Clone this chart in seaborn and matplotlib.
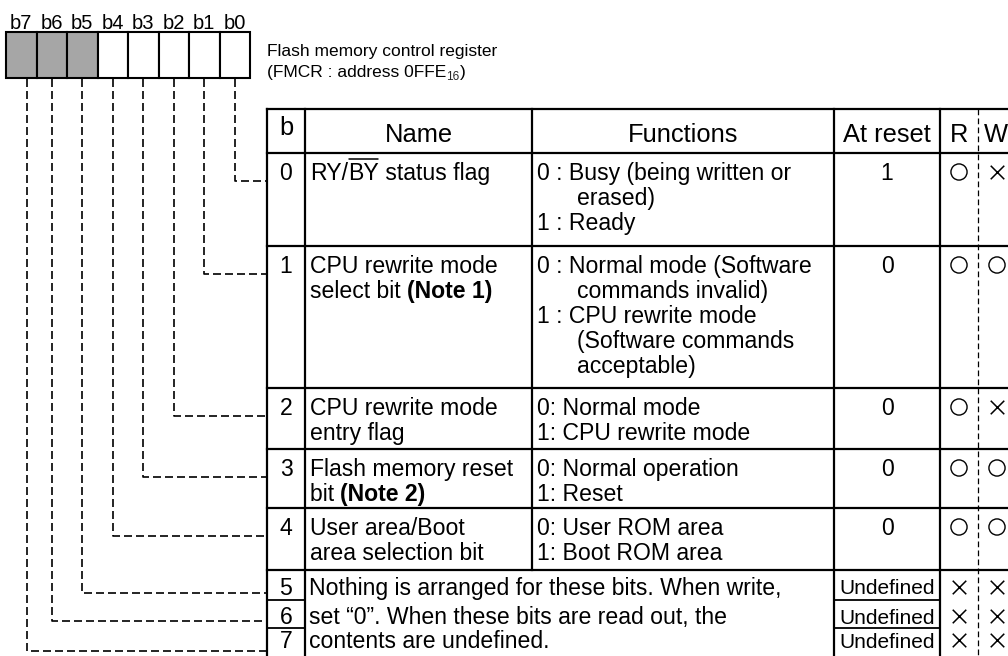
import re
import matplotlib
matplotlib.use("Agg")
import matplotlib.pyplot as plt
from matplotlib.patches import Rectangle
import pandas as pd
import seaborn as sns

# === Data ===
bit_labels = ["b7", "b6", "b5", "b4", "b3", "b2", "b1", "b0"]
reserved_bits = ["b7", "b6", "b5"]
register_title = "Flash memory control register"
register_addr = ["(FMCR : address 0FFE", "16", ")"]

headers = ["b", "Name", "Functions", "At reset", "R", "W"]
bit_numbers = ["0", "1", "2", "3", "4", "5", "6", "7"]
# ~text~ = overlined, **text** = bold
names = [
    ["RY/~BY~ status flag"],
    ["CPU rewrite mode", "select bit **(Note 1)**"],
    ["CPU rewrite mode", "entry flag"],
    ["Flash memory reset", "bit **(Note 2)**"],
    ["User area/Boot", "area selection bit"],
]
functions = [
    ["0 : Busy (being written or", "erased)", "1 : Ready"],
    ["0 : Normal mode (Software", "commands invalid)", "1 : CPU rewrite mode",
     "(Software commands", "acceptable)"],
    ["0: Normal mode", "1: CPU rewrite mode"],
    ["0: Normal operation", "1: Reset"],
    ["0: User ROM area", "1: Boot ROM area"],
]
reserved_text = [
    "Nothing is arranged for these bits. When write,",
    "set \u201c0\u201d. When these bits are read out, the",
    "contents are undefined.",
]
at_reset = ["1", "0", "0", "0", "0", "Undefined", "Undefined", "Undefined"]
read_access = ["o", "o", "o", "o", "o", "x", "x", "x"]
write_access = ["x", "o", "x", "o", "o", "x", "x", "x"]

# === Layout (pixels) ===
W, H = 1008, 656
cell_x0, cell_w, cell_y0, cell_y1 = 6, 30.5, 32, 78
table_top, header_h = 109, 44
row_heights = [93, 142, 61, 59, 62, 30, 28, 30]
cols = [267, 305, 532, 834, 940, 978, 1012]
line_pitch = 25
body_pt, head_pt = 16.6, 18.4
px = 100 / 72
leader_shift = {"b7": 6}
solid = dict(color="black", lw=1.6, solid_capstyle="projecting")
dashed = dict(color="black", lw=1.2, linestyle=(0, (4.8, 2.4)))

sns.set_theme(style="white")
plt.rcParams["font.family"] = ["Liberation Sans", "DejaVu Sans"]

fig = plt.figure(figsize=(W / 100, H / 100), dpi=100)
ax = fig.add_axes([0, 0, 1, 1])
ax.set_xlim(0, W)
ax.set_ylim(H, 0)
ax.axis("off")
renderer = fig.canvas.get_renderer()


def text_at(x, yc, s, pt, ha="left", **kw):
    # yc is the visual centre of the capitals
    return ax.text(x, yc + 0.36 * pt * px, s, fontsize=pt, ha=ha,
                   va="baseline", color="black", **kw)


def advance(s, pt, weight="normal"):
    a = ax.text(0, 0, s + "|", fontsize=pt, fontweight=weight)
    b = ax.text(0, 0, "|", fontsize=pt, fontweight=weight)
    w = a.get_window_extent(renderer).width - b.get_window_extent(renderer).width
    a.remove()
    b.remove()
    return w


def rich_line(x, yc, s, pt):
    for part in re.split(r"(\*\*.+?\*\*|~.+?~)", s):
        if not part:
            continue
        weight = "normal"
        if part.startswith("**"):
            part, weight = part[2:-2], "bold"
        elif part.startswith("~"):
            part = part[1:-1]
            oy = yc - 0.36 * pt * px - 5
            ax.plot([x + 1, x + advance(part, pt) - 1], [oy, oy], color="black", lw=1.1)
        text_at(x, yc, part, pt, fontweight=weight)
        x += advance(part, pt, weight)


# === Register box ===
for i, lab in enumerate(bit_labels):
    x = cell_x0 + i * cell_w
    face = "#a6a6a6" if lab in reserved_bits else "white"
    ax.add_patch(Rectangle((x, cell_y0), cell_w, cell_y1 - cell_y0,
                           facecolor=face, edgecolor="black", lw=1.5))
    text_at(x + cell_w / 2, 21.5, lab, 14.5, ha="center")

text_at(cols[0], 50, register_title, 12.5)
x = cols[0]
text_at(x, 71, register_addr[0], 12.5)
x += advance(register_addr[0], 12.5)
ax.text(x, 71 + 0.36 * 12.5 * px + 3, register_addr[1], fontsize=8.5, va="baseline")
x += advance(register_addr[1], 8.5)
text_at(x, 71, register_addr[2], 12.5)

# === Table grid ===
row_tops = [table_top + header_h]
for h in row_heights:
    row_tops.append(row_tops[-1] + h)
bottom = row_tops[-1]

for y in [table_top, row_tops[0]] + row_tops[1:6]:
    ax.plot([cols[0], cols[-1]], [y, y], **solid)
for y in row_tops[6:8]:
    ax.plot([cols[0], cols[1]], [y, y], color="black", lw=1.3)
    ax.plot([cols[3], cols[4]], [y, y], color="black", lw=1.3)
for c in [cols[0], cols[1], cols[3], cols[4]]:
    ax.plot([c, c], [table_top, bottom], **solid)
ax.plot([cols[2], cols[2]], [table_top, row_tops[5]], **solid)
ax.plot([cols[5], cols[5]], [table_top, bottom], color="black", lw=0.9,
        linestyle=(0, (4.6, 2.6)))

# header
hy = table_top + 24
text_at((cols[0] + cols[1]) / 2, table_top + 17, headers[0], head_pt, ha="center")
text_at((cols[1] + cols[2]) / 2, hy, headers[1], head_pt, ha="center")
text_at((cols[2] + cols[3]) / 2, hy, headers[2], head_pt, ha="center")
text_at((cols[3] + cols[4]) / 2, hy, headers[3], head_pt, ha="center")
text_at((cols[4] + cols[5]) / 2, hy, headers[4], head_pt, ha="center")
text_at(cols[5] + 18, hy, headers[5], head_pt, ha="center")

# rows
marks = []
for k, num in enumerate(bit_numbers):
    top, h = row_tops[k], row_heights[k]
    yc = min(top + min(19, h / 2 + 2), H - 16)
    text_at((cols[0] + cols[1]) / 2, yc, num, body_pt, ha="center")
    if k < len(names):
        for j, line in enumerate(names[k]):
            rich_line(cols[1] + 5, yc + j * line_pitch, line, body_pt)
        for j, line in enumerate(functions[k]):
            indent = 0 if re.match(r"^\d", line) else 40
            text_at(cols[2] + 5 + indent, yc + j * line_pitch, line, body_pt)
    else:
        text_at(cols[1] + 4, yc, reserved_text[k - len(names)], body_pt)
    pt = 15 if at_reset[k] == "Undefined" else body_pt
    text_at((cols[3] + cols[4]) / 2, yc, at_reset[k], pt, ha="center")
    marks.append({"x": (cols[4] + cols[5]) / 2, "y": yc, "mark": read_access[k]})
    marks.append({"x": cols[5] + 19, "y": yc, "mark": write_access[k]})

    # leader from register bit to table row
    i = bit_labels.index("b" + num)
    lx = cell_x0 + (i + 0.5) * cell_w + leader_shift.get("b" + num, 0)
    ly = top + min(28, h - 7)
    ax.plot([lx, lx, cols[0]], [cell_y1 + 1, ly, ly], **dashed)

marks = pd.DataFrame(marks)
sns.scatterplot(data=marks[marks["mark"] == "o"], x="x", y="y", marker="o", s=135,
                facecolors="none", edgecolor="black", linewidth=1.0, ax=ax, legend=False)
sns.scatterplot(data=marks[marks["mark"] == "x"], x="x", y="y", marker="x", s=95,
                color="black", linewidth=1.1, ax=ax, legend=False)
ax.set_xlim(0, W)
ax.set_ylim(H, 0)
ax.axis("off")

fig.savefig("out.png", dpi=100, facecolor="white")
